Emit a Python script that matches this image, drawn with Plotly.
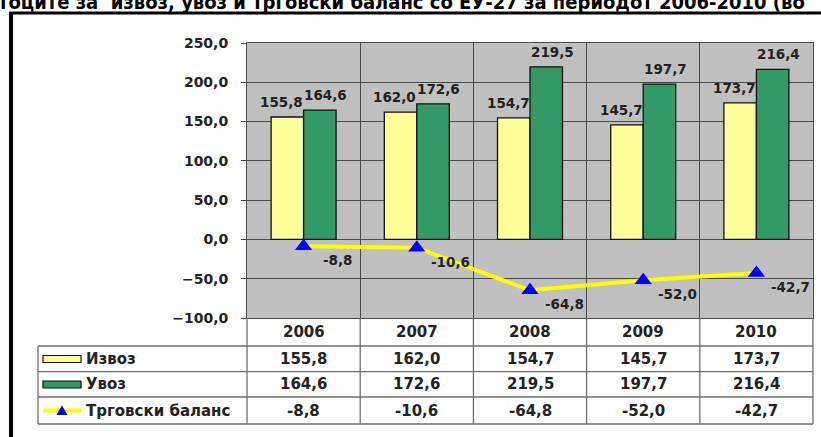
import plotly.graph_objects as go

# ---- data ----
years = ["2006", "2007", "2008", "2009", "2010"]
izvoz = [155.8, 162.0, 154.7, 145.7, 173.7]
uvoz = [164.6, 172.6, 219.5, 197.7, 216.4]
balans = [-8.8, -10.6, -64.8, -52.0, -42.7]
series_names = ["Извоз", "Увоз", "Трговски баланс"]
title_text = "тоците за  извоз, увоз и трговски баланс со ЕУ-27 за периодот 2006-2010 (во"

# ---- layout geometry (pixels) ----
W, H = 821, 437
L, R, T, B = 247, 813, 43, 318


def px(x):
    return (x - L) / (R - L)


def py(y):
    return (B - y) / (B - T)


def fmt(v):
    return f"{v:.1f}".replace(".", ",")


YEL = "#FFFF99"
GRN = "#339966"
GRID = "#4a4a4a"
TBL = "#6e6e6e"
TXT = "#222222"
FONT = "DejaVu Sans"

fig = go.Figure()
fig.add_trace(go.Bar(x=years, y=izvoz, name=series_names[0], marker=dict(color=YEL, line=dict(color="#111", width=1.3))))
fig.add_trace(go.Bar(x=years, y=uvoz, name=series_names[1], marker=dict(color=GRN, line=dict(color="#111", width=1.3))))
fig.add_trace(go.Scatter(x=years, y=balans, name=series_names[2], mode="lines+markers",
                         line=dict(color="#FFFF00", width=4),
                         marker=dict(symbol="triangle-up", size=15, color="#0000FF")))

ann = []
lab_font = dict(family=FONT, size=13.5, color=TXT, weight="bold")
base = dict(showarrow=False, xanchor="center", yanchor="middle")
for i, y in enumerate(years):
    ann.append(dict(x=i, y=izvoz[i], xref="x", yref="y", text=fmt(izvoz[i]),
                    xshift=-22, yshift=15, font=lab_font, **base))
    ann.append(dict(x=i, y=uvoz[i], xref="x", yref="y", text=fmt(uvoz[i]),
                    xshift=22, yshift=15, font=lab_font, **base))
    ann.append(dict(x=i, y=balans[i], xref="x", yref="y", text=fmt(balans[i]),
                    xshift=34, yshift=-14, font=lab_font, **base))

# ---- data table under the plot ----
row_lines = [346, 371.7, 397, 424]
row_centers = [332, 359, 384.5, 410.5]
tbl_font = dict(family=FONT, size=15, color=TXT, weight="bold")
for i, y in enumerate(years):
    ann.append(dict(x=i, y=py(row_centers[0]), xref="x", yref="paper", text=y, font=tbl_font, **base))
    for r, vals in enumerate([izvoz, uvoz, balans]):
        ann.append(dict(x=i, y=py(row_centers[r + 1]), xref="x", yref="paper", text=fmt(vals[i]),
                        font=tbl_font, **base))
for r, name in enumerate(series_names):
    ann.append(dict(x=px(84), y=py(row_centers[r + 1]), xref="paper", yref="paper", text=name,
                    xanchor="left", yanchor="middle", showarrow=False, font=tbl_font))

# title (cut at top)
ann.append(dict(x=px(-4), y=py(1.5), xref="paper", yref="paper", text=title_text, xanchor="left",
                yanchor="middle", showarrow=False,
                font=dict(family="DejaVu Sans Condensed", size=20, color="#000", weight="bold")))

shapes = []
n = len(years)
for k in range(n + 1):
    shapes.append(dict(type="line", xref="paper", yref="paper", x0=k / n, x1=k / n, y0=py(B), y1=py(424),
                       line=dict(color=TBL, width=1.3)))
for yl in row_lines:
    shapes.append(dict(type="line", xref="paper", yref="paper", x0=px(38), x1=1, y0=py(yl), y1=py(yl),
                       line=dict(color=TBL, width=1.3)))
shapes.append(dict(type="line", xref="paper", yref="paper", x0=px(38), x1=px(38), y0=py(346), y1=py(424),
                   line=dict(color=TBL, width=1.3)))
# legend keys
for r, col in enumerate([YEL, GRN]):
    c = row_centers[r + 1]
    shapes.append(dict(type="rect", xref="paper", yref="paper", x0=px(43), x1=px(81), y0=py(c - 3.5), y1=py(c + 3.5),
                       fillcolor=col, line=dict(color="#111", width=1.2)))
c = row_centers[3]
shapes.append(dict(type="line", xref="paper", yref="paper", x0=px(43), x1=px(81), y0=py(c), y1=py(c),
                   line=dict(color="#FFFF00", width=4)))
shapes.append(dict(type="path", xref="paper", yref="paper",
                   path=f"M{px(56.5)},{py(c + 4.5)} L{px(67.5)},{py(c + 4.5)} L{px(62)},{py(c - 5)} Z",
                   fillcolor="#0000FF", line=dict(color="#0000FF", width=0)))
# outer black frame
shapes.append(dict(type="line", xref="paper", yref="paper", x0=px(11), x1=px(11), y0=py(12), y1=py(445),
                   line=dict(color="#000", width=4)))
shapes.append(dict(type="line", xref="paper", yref="paper", x0=px(9), x1=px(830), y0=py(13), y1=py(13),
                   line=dict(color="#000", width=3)))

fig.update_layout(
    width=W, height=H,
    margin=dict(l=L, r=W - R, t=T, b=H - B),
    paper_bgcolor="white", plot_bgcolor="#C0C0C0",
    separators=",.",
    barmode="group", bargap=0.426, bargroupgap=0,
    showlegend=False,
    annotations=ann, shapes=shapes,
    xaxis=dict(type="category", tickson="boundaries", showgrid=True, gridcolor=GRID, gridwidth=1,
               showticklabels=False, ticks="", showline=True, linecolor=GRID, mirror=True, range=[-0.5, 4.5]),
    yaxis=dict(range=[-100, 250], dtick=50, tickformat=".1f", showgrid=True, gridcolor=GRID, gridwidth=1,
               zeroline=True, zerolinecolor=GRID, zerolinewidth=1,
               ticks="outside", ticklen=5, tickcolor=GRID, showline=True, linecolor=GRID, mirror=True,
               ticklabelstandoff=10,
               tickfont=dict(family=FONT, size=14, color=TXT, weight="bold")),
)

fig.write_html("out.html", config={"displayModeBar": False},
               post_script="document.body.style.margin='0';document.body.style.overflow='hidden';")
